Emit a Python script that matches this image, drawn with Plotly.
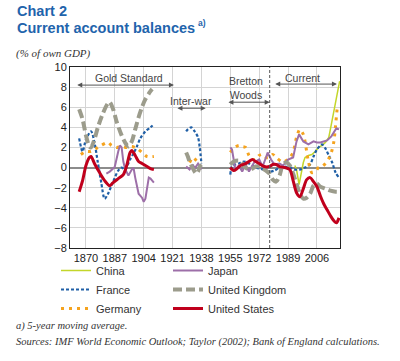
import plotly.graph_objects as go

N = None
# ---- data (5-year moving averages, % of own GDP) ----
china_years = [1993, 1994, 1995.5, 1997, 1998, 1999, 2001, 2003, 2005, 2007, 2009, 2011, 2013, 2014.5, 2016.5, 2018.4, 2019.4]
china_vals  = [0.2, -0.2, -1.7, -0.3, 0.5, 1.0, 1.2, 1.3, 1.6, 2.0, 2.2, 2.5, 3.0, 4.3, 6.1, 8.1, 8.6]

france_years = [1866, 1868, 1870, 1873, 1875, 1877, 1879, 1881, 1883, 1886, 1889, 1891, 1893, 1896, 1898, 1900, 1902, 1905, 1908, 1910,
                1920,
                1929, 1930, 1932, 1934, 1936, 1937, 1938,
                1946,
                1955, 1956, 1958, 1960, 1963, 1966, 1969, 1972, 1975, 1978, 1981, 1984, 1987, 1990, 1993, 1996, 1999, 2002, 2004, 2006, 2009, 2011, 2013, 2015, 2017, 2019]
france_vals  = [2.9, 1.6, 2.8, 3.6, 2.5, 0.5, -1.5, -3.1, -2.6, -1.4, -0.3, 0.0, -0.2, 0.8, 1.4, 2.1, 2.9, 3.6, 4.0, 4.3,
                N,
                3.6, 3.8, 4.0, 3.6, 3.0, 2.0, 0.4,
                N,
                -0.7, 0.1, 0.3, 0.4, 0.6, 0.4, 0.1, -0.1, -0.2, -0.4, -0.3, 0.0, 0.1, 0.0, -0.2, -0.2, 0.0, 0.3, 1.1, 1.8, 2.3, 1.9, 1.2, 0.5, -0.5, -1.0]

germany_years = [1867, 1870, 1873, 1876, 1879, 1883, 1885, 1888, 1891, 1894, 1897, 1900, 1903, 1906, 1910,
                 1920,
                 1931, 1933, 1935, 1937,
                 1946,
                 1955, 1957, 1960, 1962, 1964, 1966, 1968, 1970, 1972, 1974, 1976, 1978, 1980, 1982, 1985, 1987, 1990, 1992, 1994, 1996, 1998, 1999, 2001, 2003, 2005, 2007, 2009, 2011, 2013, 2014.5, 2016, 2017, 2018]
germany_vals  = [1.3, 1.6, 1.6, 1.9, 2.2, 2.5, 2.2, 2.0, 2.1, 2.0, 2.1, 1.9, 1.5, 1.1, 1.1,
                 N,
                 0.5, 1.0, 0.7, 0.3,
                 N,
                 1.5, 1.9, 2.2, 2.1, 2.0, 1.2, 0.8, 0.8, 1.2, 1.3, 1.0, 1.0, 1.3, 1.0, 0.6, 0.6, 1.0, 1.5, 3.0, 3.8, 3.3, 2.6, 0.6, -0.5, -0.4, 0.0, 0.1, 0.4, 0.9, 1.5, 2.6, 4.2, 6.0]

japan_years = [1882, 1884, 1886, 1887, 1889, 1890, 1891, 1892, 1893, 1895, 1897, 1898, 1899, 1901, 1903, 1904, 1905, 1907, 1908, 1910,
               1920,
               1929, 1931, 1933, 1934, 1936, 1938,
               1946,
               1955, 1956, 1957, 1958, 1960, 1962, 1964, 1966, 1968, 1969, 1972, 1974, 1976, 1977, 1979, 1981, 1984, 1986, 1989, 1992, 1994, 1995.5, 1998, 2001, 2004, 2006, 2008, 2010, 2012, 2014.5, 2016, 2017.5, 2019]
japan_vals  = [-0.6, -0.4, -0.1, 0.1, 1.6, 2.2, 2.0, 0.6, -0.1, -0.8, -0.2, 0.0, -1.0, -2.6, -3.0, -3.4, -3.1, -1.0, -1.1, -1.5,
               N,
               0.1, -0.2, 0.3, -0.1, 0.4, -0.2,
               N,
               2.0, 1.8, 0.8, -0.2, 0.2, -0.4, 0.3, -0.4, 0.2, 0.5, 0.8, 0.1, 1.0, 1.5, 0.8, 0.3, 0.4, 0.2, 0.8, 1.0, 2.6, 3.3, 2.6, 2.3, 2.6, 2.5, 2.5, 2.6, 2.7, 3.1, 3.5, 3.9, 3.8]

uk_years = [1866, 1868, 1870, 1872, 1873, 1875, 1877, 1880, 1883, 1884, 1886, 1888, 1891, 1893, 1895, 1897, 1899, 1901, 1903, 1905, 1908, 1909,
            1920,
            1929, 1930, 1931, 1933, 1935, 1936, 1937, 1938,
            1946,
            1955, 1957, 1960, 1962, 1964, 1966, 1968, 1970, 1972, 1974, 1976, 1978, 1980, 1982, 1984, 1986, 1988, 1990, 1992, 1994, 1996, 1998, 2000, 2002, 2004, 2006, 2008, 2011, 2014, 2017, 2019]
uk_vals  = [5.8, 4.8, 3.2, 2.1, 2.0, 2.8, 4.0, 5.4, 6.4, 6.5, 5.8, 4.6, 3.2, 2.5, 2.1, 2.6, 3.8, 5.0, 6.0, 6.8, 7.6, 7.8,
            N,
            1.5, 1.1, 0.6, -0.1, -0.6, -0.4, 0.1, 0.3,
            N,
            0.3, 0.6, 0.7, 0.4, 0.0, -0.2, -0.1, 0.1, 0.1, -0.1, -0.3, -0.6, -1.2, -1.4, -0.8, 0.3, 0.5, 0.2, -0.6, -1.6, -2.6, -3.1, -3.0, -2.6, -1.8, -1.6, -1.9, -2.1, -2.3, -2.4, -2.4]

us_years = [1866, 1868, 1870, 1872, 1873, 1875, 1878, 1881, 1884, 1886, 1889, 1892, 1894, 1896, 1897, 1899, 1901, 1903, 1906, 1908, 1910,
            1930,
            1955, 1957, 1959, 1961, 1964, 1966, 1968, 1970, 1972, 1975, 1978, 1980, 1982, 1984, 1987, 1990, 1992, 1994, 1996, 1998, 2000, 2002, 2004, 2006, 2008, 2010, 2012, 2014, 2016, 2017.5, 2019]
us_vals  = [-2.4, -1.3, 0.2, 1.0, 1.1, 0.4, -0.5, -1.3, -1.8, -1.5, -1.1, -0.7, 0.2, 1.5, 1.7, 1.2, 0.6, 0.4, 0.1, -0.1, -0.2,
            N,
            0.0, -0.3, -0.1, 0.2, 0.4, 0.6, 0.8, 0.6, 0.4, 0.1, 0.1, 0.3, 0.3, 0.1, 0.0, -0.2, -1.3, -2.5, -2.9, -2.1, -1.2, -1.0, -1.4, -1.9, -2.8, -3.6, -4.2, -4.8, -5.3, -5.5, -5.0]

x_ticks = [1870, 1887, 1904, 1921, 1938, 1955, 1972, 1989, 2006]
y_ticks = [-8, -6, -4, -2, 0, 2, 4, 6, 8, 10]

eras = ["Gold Standard", "Inter-war", "Bretton<br>Woods", "Current"]
era_start = [1864, 1923, 1953, 1980.6]
era_end = [1921.8, 1940.5, 1978.2, 2017.8]
era_arrow_y = [8.2, 5.9, 6.5, 8.3]
era_text_x = [1895.5, 1931.8, 1964.5, 1997.8]
era_text_y = [8.9, 6.6, 7.9, 8.95]
regime_break = 1978.2

# ---- layout geometry (pixels) ----
W, H = 400, 361
ML, MR, MT, MB = 70, 60, 67, 113
PW, PH = W - ML - MR, H - MT - MB


def px(xp):
    return (xp - ML) / PW


def py(yp):
    return (H - MB - yp) / PH


# ---- styles ----
series = [
    ("China", china_years, china_vals, dict(color="#c3d62a", width=1.5), "legend"),
    ("France", france_years, france_vals, dict(color="#1f5fa6", width=2.2, dash="3px,2px"), "legend"),
    ("Germany", germany_years, germany_vals, dict(color="#f5a31e", width=3, dash="3px,5px"), "legend"),
    ("Japan", japan_years, japan_vals, dict(color="#9d6fa8", width=2), "legend2"),
    ("United Kingdom", uk_years, uk_vals, dict(color="#9c9c8c", width=4, dash="9px,4px"), "legend2"),
    ("United States", us_years, us_vals, dict(color="#c0001c", width=3), "legend2"),
]

fig = go.Figure()
for name, xs, ys, line, leg in series:
    shape = "linear" if name in ("Japan", "China") else "spline"
    ln = dict(line)
    ln["shape"] = shape
    if shape == "spline":
        ln["smoothing"] = 0.8
    fig.add_trace(go.Scatter(x=xs, y=ys, mode="lines", name=name, line=ln,
                             connectgaps=False, legend=leg, hoverinfo="skip"))

# regime break
fig.add_vline(x=regime_break, line=dict(color="#555555", width=1, dash="3px,2px"))

for t, x0, x1, ay, tx, ty in zip(eras, era_start, era_end, era_arrow_y, era_text_x, era_text_y):
    fig.add_annotation(x=x1, y=ay, ax=x0, ay=ay, xref="x", yref="y", axref="x", ayref="y",
                       text="", showarrow=True, arrowhead=2, arrowside="end+start",
                       arrowsize=1, arrowwidth=1, arrowcolor="#555555")
    fig.add_annotation(x=tx, y=ty, xref="x", yref="y", text=t, showarrow=False,
                       font=dict(family="Liberation Sans", size=10.5, color="#444444"))

# titles & notes
title_font = dict(family="Liberation Sans", size=14.5, color="#1f64ac")
notes = [
    (15, 1, "<b>Chart 2</b>", title_font),
    (15, 18, "<b>Current account balances</b>", title_font),
    (196, 16, "<b>a)</b>", dict(family="Liberation Sans", size=8.5, color="#1f64ac")),
    (14, 45, "<i>(% of own GDP)</i>", dict(family="Liberation Serif", size=11, color="#333333")),
    (14, 318, "<i>a) 5-year moving average.</i>", dict(family="Liberation Serif", size=10.5, color="#333333")),
    (14, 334, "<i>Sources: IMF World Economic Outlook; Taylor (2002); Bank of England calculations.</i>",
     dict(family="Liberation Serif", size=10.5, color="#333333")),
]
for xp, yp, txt, fnt in notes:
    fig.add_annotation(xref="paper", yref="paper", x=px(xp), y=py(yp), xanchor="left", yanchor="top",
                       text=txt, showarrow=False, font=fnt)

axis_font = dict(family="Liberation Sans", size=11, color="#222222")
leg_font = dict(family="Liberation Sans", size=11, color="#333333")
fig.update_layout(
    width=W, height=H,
    margin=dict(l=ML, r=MR, t=MT, b=MB, autoexpand=False),
    paper_bgcolor="white", plot_bgcolor="white",
    font=dict(family="Liberation Sans", size=11, color="#222222"),
    xaxis=dict(range=[1860.6, 2019.6], tickvals=x_ticks, showgrid=True, gridcolor="#d4d4d4",
               gridwidth=1, showline=True, linecolor="#222222", linewidth=1, mirror=True,
               ticks="", tickfont=axis_font, zeroline=False),
    yaxis=dict(range=[-8, 10], tickvals=y_ticks, showgrid=True, gridcolor="#d4d4d4", gridwidth=1,
               showline=True, linecolor="#222222", linewidth=1, mirror=True, ticks="",
               tickfont=axis_font, zeroline=True, zerolinecolor="#8c8c8c", zerolinewidth=1.5),
    legend=dict(x=px(56), y=py(256), xanchor="left", yanchor="top",
                orientation="v", font=leg_font, bgcolor="rgba(0,0,0,0)", tracegroupgap=0, itemwidth=30),
    legend2=dict(x=px(168), y=py(256), xanchor="left", yanchor="top",
                 orientation="v", font=leg_font, bgcolor="rgba(0,0,0,0)", tracegroupgap=0, itemwidth=30),
)

fig.write_html("out.html", config={"displayModeBar": False},
               post_script="document.body.style.margin='0';")
